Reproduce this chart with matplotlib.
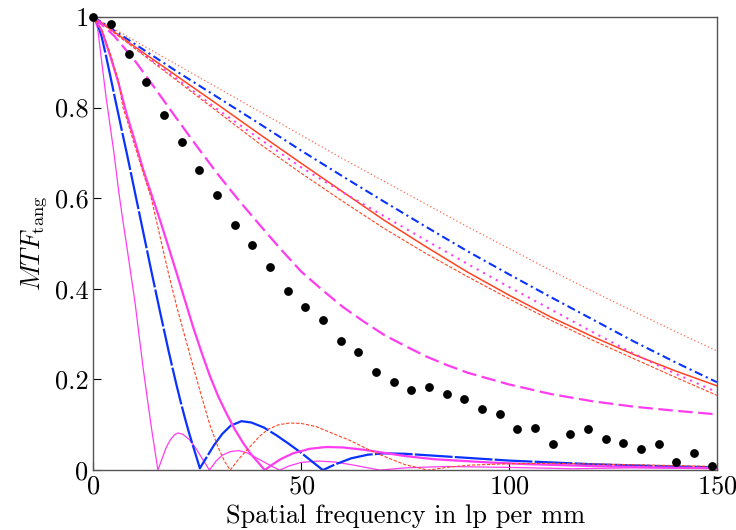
import matplotlib
matplotlib.use("Agg")
import matplotlib.pyplot as plt
import numpy as np

plt.rcParams['font.family'] = 'serif'
plt.rcParams['font.serif'] = ['cmr10', 'DejaVu Serif']
plt.rcParams['mathtext.fontset'] = 'cm'
plt.rcParams['axes.formatter.use_mathtext'] = True

RED = '#ff4422'
BLUE = '#0a32ff'
MAG = '#ff3cf0'

# near-linear group, sampled every 10 lp/mm
x_grid = [0, 10, 20, 30, 40, 50, 60, 70, 80, 90, 100, 110, 120, 130, 140, 150]
red_dotted = [1, 0.947, 0.895, 0.843, 0.791, 0.739, 0.687, 0.637, 0.587, 0.537,
              0.489, 0.441, 0.395, 0.350, 0.306, 0.263]
blue_dashdot = [1, 0.940, 0.880, 0.822, 0.764, 0.705, 0.648, 0.592, 0.537, 0.483,
                0.432, 0.382, 0.333, 0.284, 0.238, 0.194]
red_solid = [1, 0.934, 0.870, 0.806, 0.741, 0.677, 0.614, 0.551, 0.493, 0.437,
             0.386, 0.338, 0.295, 0.255, 0.219, 0.186]
mag_dotted = [1, 0.932, 0.864, 0.795, 0.731, 0.668, 0.613, 0.560, 0.507, 0.455,
              0.404, 0.355, 0.305, 0.257, 0.213, 0.172]
red_dashed = [1, 0.930, 0.860, 0.790, 0.720, 0.655, 0.593, 0.533, 0.478, 0.427,
              0.378, 0.331, 0.287, 0.246, 0.205, 0.165]

# magenta thick dashed
x_mdash = [0, 5, 10, 15, 20, 25, 30, 35, 40, 45, 50, 55, 60, 65, 70, 75, 80, 85,
           90, 100, 110, 120, 130, 140, 150]
mag_dashed = [1, 0.958, 0.903, 0.84, 0.776, 0.713, 0.652, 0.595, 0.541, 0.488, 0.438,
              0.398, 0.360, 0.328, 0.298, 0.274, 0.251, 0.232, 0.215, 0.189, 0.168,
              0.152, 0.140, 0.131, 0.123]

# measured points
x_meas = np.arange(36) * 4.25
meas = [1.0, 0.985, 0.918, 0.857, 0.784, 0.723, 0.662, 0.607, 0.542, 0.497, 0.449,
        0.395, 0.36, 0.331, 0.286, 0.261, 0.216, 0.195, 0.177, 0.183, 0.167, 0.157,
        0.134, 0.124, 0.09, 0.093, 0.057, 0.079, 0.09, 0.068, 0.059, 0.046, 0.057,
        0.017, 0.037, 0.008]

# steep curves with side lobes
x_mthin = [0, 1, 2, 3, 4, 5, 6, 7, 8, 9, 10, 11, 12, 13, 14, 15, 15.5, 16.5, 17.5,
           18.5, 19.5, 20.3, 21.5, 23, 24.5, 26, 27.9, 29.5, 31, 33, 35, 37, 39, 41,
           43, 44.8, 47, 50, 54, 58, 62, 66, 69, 75, 85, 100, 115, 130, 150]
mag_thin = [1, 0.975, 0.9, 0.825, 0.76, 0.695, 0.62, 0.555, 0.495, 0.432, 0.37,
            0.295, 0.222, 0.155, 0.09, 0.03, 0.0, 0.025, 0.05, 0.067, 0.078, 0.082,
            0.079, 0.068, 0.05, 0.028, 0.0, 0.02, 0.033, 0.041, 0.043, 0.038, 0.028,
            0.018, 0.008, 0.0, 0.009, 0.017, 0.02, 0.018, 0.012, 0.005, 0.0, 0.005,
            0.008, 0.006, 0.003, 0.005, 0.004]

x_blong = [0, 1, 2, 3, 4, 5, 6, 7, 8, 9, 10, 11, 12, 13, 14, 15, 16, 17, 18, 19, 20,
           21, 22, 23, 24, 25, 25.6, 27, 29, 31, 33, 35.6, 38, 41, 44, 47, 50, 53,
           55.2, 58, 62, 66, 70, 75, 80, 90, 100, 110, 120, 135, 150]
blue_long = [1, 0.985, 0.955, 0.915, 0.872, 0.828, 0.785, 0.742, 0.7, 0.656, 0.612,
             0.568, 0.524, 0.48, 0.436, 0.393, 0.35, 0.308, 0.266, 0.226, 0.187, 0.15,
             0.115, 0.082, 0.052, 0.022, 0.004, 0.025, 0.055, 0.08, 0.098, 0.108,
             0.105, 0.094, 0.077, 0.058, 0.038, 0.016, 0.0, 0.012, 0.026, 0.034,
             0.037, 0.036, 0.033, 0.027, 0.021, 0.017, 0.013, 0.009, 0.006]

x_mthick = [0, 2, 4, 6, 8, 10, 12, 14, 16, 18, 20, 22, 24, 26, 28, 30, 32, 34, 36,
            38, 40, 41.2, 43, 45, 48, 52, 56, 60, 65, 70, 75, 82, 95, 105, 120, 135, 150]
mag_thick = [1, 0.97, 0.915, 0.855, 0.785, 0.725, 0.662, 0.607, 0.552, 0.494, 0.435,
             0.375, 0.315, 0.26, 0.208, 0.163, 0.125, 0.09, 0.06, 0.034, 0.013, 0.0,
             0.012, 0.024, 0.037, 0.047, 0.051, 0.05, 0.045, 0.038, 0.031, 0.024,
             0.017, 0.013, 0.009, 0.006, 0.004]

x_rsteep = [0, 2, 4, 6, 7.1, 8, 10, 12, 13.9, 16, 18, 20, 22, 24, 26, 28, 30, 31.5,
            32.9, 35, 37.6, 40, 42, 44.5, 47.2, 50, 53.6, 57, 61.6, 66.5, 70, 75, 80.5,
            85, 90.5, 100, 110, 130, 150]
red_steep = [1, 0.972, 0.92, 0.86, 0.8, 0.775, 0.714, 0.655, 0.6, 0.516, 0.436,
             0.362, 0.295, 0.228, 0.163, 0.1, 0.05, 0.02, 0.0, 0.025, 0.051, 0.075,
             0.09, 0.1, 0.104, 0.103, 0.096, 0.083, 0.066, 0.044, 0.03, 0.012, 0.0,
             0.006, 0.011, 0.014, 0.015, 0.012, 0.008]

fig = plt.figure(figsize=(7.36, 5.30), dpi=100)
ax = fig.add_axes([0.127, 0.113, 0.847, 0.855])

ax.plot(x_grid, red_dotted, color=RED, lw=0.9, ls=(0, (1, 2)), alpha=0.8)
ax.plot(x_grid, blue_dashdot, color=BLUE, lw=1.5, ls=(0, (4, 1.8, 1, 1.8)))
ax.plot(x_grid, red_solid, color=RED, lw=1.1)
ax.plot(x_grid, mag_dotted, color=MAG, lw=1.5, ls=(0, (1, 2.5)))
ax.plot(x_grid, red_dashed, color=RED, lw=0.8, ls=(0, (3, 1.5)))
ax.plot(x_mdash, mag_dashed, color=MAG, lw=1.6, ls=(0, (6.5, 2.5)))
ax.plot(x_mthin, mag_thin, color=MAG, lw=0.9)
ax.plot(x_blong, blue_long, color=BLUE, lw=1.6, ls=(0, (17, 1)))
ax.plot(x_mthick, mag_thick, color=MAG, lw=1.6)
ax.plot(x_rsteep, red_steep, color=RED, lw=0.8, ls=(0, (3, 1.5)))
ax.plot(x_meas, meas, 'o', color='black', ms=5.3, clip_on=False, zorder=5)

ax.set_xlim(0, 150)
ax.set_ylim(0, 1)
ax.set_xticks([0, 50, 100, 150])
ax.set_yticks([0, 0.2, 0.4, 0.6, 0.8, 1])
ax.set_yticklabels(['0', '0.2', '0.4', '0.6', '0.8', '1'])
ax.tick_params(direction='in', length=6, width=0.8, labelsize=19, top=False, right=False)
for s in ax.spines.values():
    s.set_color('#555555')
    s.set_linewidth(1.0)

ax.set_xlabel('Spatial frequency in lp per mm', fontsize=19, labelpad=4)
ax.set_ylabel(r'$MTF_{\mathrm{tang}}$', fontsize=19, labelpad=4)

fig.savefig('out.png', dpi=100)
